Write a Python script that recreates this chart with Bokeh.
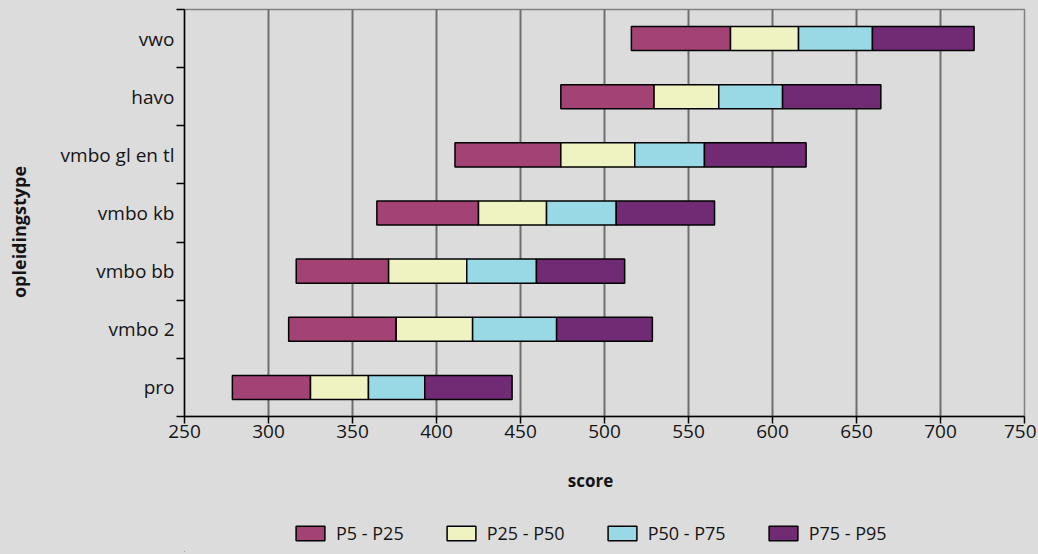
import math
from bokeh.plotting import figure
from bokeh.layouts import row, column
from bokeh.models import (ColumnDataSource, FixedTicker, Range1d, Legend, LegendItem, Label)
from bokeh.embed import file_html
from bokeh.resources import INLINE

# ---- data ----
categories = ["pro", "vmbo 2", "vmbo bb", "vmbo kb", "vmbo gl en tl", "havo", "vwo"]
p5 = [278.5, 312, 316.5, 364.5, 411, 474, 516]
p25 = [325, 376, 371.5, 425, 474, 529.5, 575]
p50 = [359.5, 421.5, 418, 465.5, 518, 568, 615.5]
p75 = [393, 471.5, 459.5, 507, 559.5, 606, 659.5]
p95 = [445, 528.5, 512, 565.5, 620, 664.5, 720]
series_labels = ["P5 - P25", "P25 - P50", "P50 - P75", "P75 - P95"]
series_colors = ["#A34274", "#EFF3C1", "#99D9E5", "#712A74"]
x_ticks = [250, 300, 350, 400, 450, 500, 550, 600, 650, 700, 750]
x_title = "score"
y_title = "opleidingstype"

BG = "#DCDCDC"
FONT = "Open Sans"
TXT = "#141414"
TOTAL_H = 552
LEFT_W = 40
MAIN_H = 456
FRAME_L = 184   # page x of the plotting frame's left edge
FRAME_W = 840

ypos = [i + 0.5 for i in range(len(categories))]

# ---------------- main chart ----------------
p = figure(width=996, height=MAIN_H,
           min_border_left=FRAME_L - LEFT_W, min_border_right=12, min_border_top=9, min_border_bottom=40,
           x_range=Range1d(250, 750), y_range=Range1d(0, len(categories)),
           output_backend="svg", toolbar_location=None, title=None)
p.background_fill_color = BG
p.border_fill_color = BG
p.outline_line_color = "#808080"
p.outline_line_width = 1.5

bounds = [p5, p25, p50, p75, p95]
for k in range(4):
    src = ColumnDataSource(dict(y=ypos, left=bounds[k], right=bounds[k + 1]))
    p.hbar(y="y", left="left", right="right", height=0.414, source=src,
           fill_color=series_colors[k], line_color="black", line_width=1.5)

p.ygrid.visible = False
p.xgrid.ticker = FixedTicker(ticks=x_ticks[1:])
p.xgrid.grid_line_color = "#6E6E6E"
p.xgrid.grid_line_width = 2

xa = p.xaxis[0]
xa.ticker = FixedTicker(ticks=x_ticks)
xa.axis_line_color = "black"
xa.axis_line_width = 1.5
xa.major_tick_line_color = "black"
xa.major_tick_line_width = 1.5
xa.major_tick_out = 7
xa.major_tick_in = 0
xa.minor_tick_line_color = None
xa.major_label_text_font = FONT
xa.major_label_text_font_size = "19px"
xa.major_label_text_color = TXT
xa.major_label_standoff = 1

ya = p.yaxis[0]
ya.ticker = FixedTicker(ticks=ypos, minor_ticks=list(range(len(categories) + 1)))
ya.major_label_overrides = {y: c for y, c in zip(ypos, categories)}
ya.axis_line_color = "black"
ya.axis_line_width = 1.5
ya.major_tick_line_color = None
ya.major_tick_out = 8
ya.major_tick_in = 0
ya.minor_tick_line_color = "black"
ya.minor_tick_line_width = 1.5
ya.minor_tick_out = 8
ya.minor_tick_in = 0
ya.major_label_text_font = FONT
ya.major_label_text_font_size = "19px"
ya.major_label_text_color = TXT
ya.major_label_standoff = 2

# ---------------- left strip: y title ----------------
yt = figure(width=LEFT_W, height=TOTAL_H, x_range=Range1d(0, LEFT_W), y_range=Range1d(0, TOTAL_H),
            x_axis_type=None, y_axis_type=None, min_border=0,
            output_backend="svg", toolbar_location=None, title=None)
yt.background_fill_color = BG
yt.border_fill_color = BG
yt.outline_line_color = None
yt.grid.visible = False
yt.add_layout(Label(x=18.5, y=TOTAL_H - 231.5, text=y_title, angle=math.pi / 2,
                    text_font=FONT, text_font_size="18px", text_font_style="bold",
                    text_align="center", text_baseline="middle", text_color=TXT))

# ---------------- bottom strip: x title + legend ----------------
# (its frame is aligned with the main frame by the column layout)
bh = TOTAL_H - MAIN_H
pb = figure(width=996, height=bh, x_range=Range1d(FRAME_L, FRAME_L + FRAME_W), y_range=Range1d(0, bh),
            x_axis_type=None, y_axis_type=None, min_border=0,
            output_backend="svg", toolbar_location=None, title=None)
pb.background_fill_color = BG
pb.border_fill_color = BG
pb.outline_line_color = None
pb.grid.visible = False
pb.add_layout(Label(x=590, y=TOTAL_H - 480, text=x_title,
                    text_font=FONT, text_font_size="17px", text_font_style="bold",
                    text_align="center", text_baseline="middle", text_color=TXT))

# legend swatches: renderers holding one point far outside the visible strip
legend_renderers = []
for k in range(4):
    r = pb.hbar(y=[-5000], left=[-5000], right=[-4999], height=1,
                fill_color=series_colors[k], line_color="black", line_width=1.5)
    legend_renderers.append(r)

legend = Legend(items=[LegendItem(label=series_labels[k], renderers=[legend_renderers[k]]) for k in range(4)],
                location=(108, 7), orientation="horizontal",
                glyph_width=36, glyph_height=18, label_standoff=8, spacing=39,
                label_text_font=FONT, label_text_font_size="18px", label_text_color=TXT,
                padding=0, margin=0, border_line_color=None, background_fill_alpha=0)
pb.add_layout(legend, "center")

layout = row(yt, column(p, pb, spacing=0), spacing=0)

html = file_html(layout, INLINE)
html = html.replace("</head>", "<style>body{background:#dcdcdc;}</style></head>", 1)
open("out.html", "w").write(html)
